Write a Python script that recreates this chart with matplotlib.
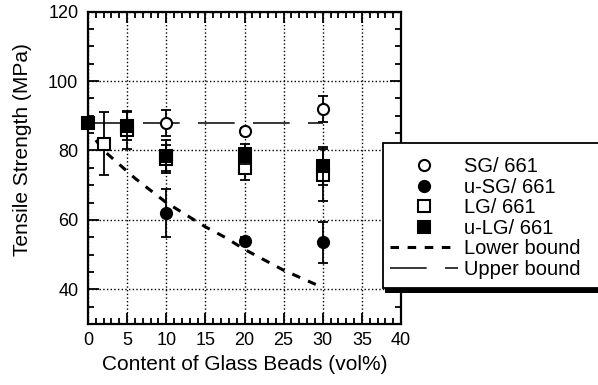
import matplotlib
matplotlib.use('Agg')
import matplotlib.pyplot as plt
from matplotlib.patches import Rectangle
from matplotlib.ticker import MultipleLocator

plt.rcParams['font.family'] = ['Liberation Sans', 'DejaVu Sans']

# glass bead content (vol%) and tensile strength (MPa)
sg_x = [10, 20, 30]
sg_y = [88, 85.5, 92]
sg_err = [3.8, 1.0, 3.8]

usg_x = [10, 20, 30]
usg_y = [62, 54, 53.5]
usg_err = [7, 1.0, 6]

lg_x = [2, 5, 10, 20, 30]
lg_y = [82, 86, 77.5, 75, 73]
lg_err = [9, 5.5, 4, 3.5, 7.5]

ulg_x = [0, 5, 10, 20, 30]
ulg_y = [88, 87, 78.5, 79, 75.5]
ulg_err = [0, 4, 4.5, 3, 5.5]

lower_x = [1, 2, 4, 6, 8, 10, 12.5, 15, 17.5, 20, 22.5, 25, 27.5, 29.5]
lower_y = [83, 80, 76, 72, 68.5, 65, 61.5, 58, 55, 51.5, 48.5, 45.5, 43, 41]

upper_x = [0, 30]
upper_y = [88, 88]

W, H = 598, 385
fig = plt.figure(figsize=(W / 100, H / 100), dpi=100)
ax = fig.add_axes([88 / W, 1 - 324 / H, 313 / W, 312.3 / H])

ax.plot(upper_x, upper_y, color='black', lw=1.1, linestyle=(0, (24, 12)),
        label='Upper bound', zorder=2)
ax.plot(lower_x, lower_y, color='black', lw=2.2, linestyle=(0, (2.8, 2.8)),
        label='Lower bound', zorder=2)

series = [
    (sg_x, sg_y, sg_err, 'o', 'white', 'SG/ 661'),
    (usg_x, usg_y, usg_err, 'o', 'black', 'u-SG/ 661'),
    (lg_x, lg_y, lg_err, 's', 'white', 'LG/ 661'),
    (ulg_x, ulg_y, ulg_err, 's', 'black', 'u-LG/ 661'),
]
handles = []
for i, (x, y, e, m, fc, lab) in enumerate(series):
    ax.errorbar(x, y, yerr=e, fmt='none', ecolor='black', elinewidth=1.3,
                capsize=3.6, capthick=1.3, zorder=3 + i)
    h, = ax.plot(x, y, linestyle='none', marker=m, markersize=8,
                 markerfacecolor=fc, markeredgecolor='black',
                 markeredgewidth=1.5, label=lab, zorder=3.5 + i,
                 clip_on=False)
    handles.append(h)

ax.set_xlim(0, 40)
ax.set_ylim(30, 120)
ax.set_xticks(range(0, 41, 5))
ax.set_yticks(range(40, 121, 20))
ax.xaxis.set_minor_locator(MultipleLocator(1))
ax.yaxis.set_minor_locator(MultipleLocator(5))
ax.tick_params(which='both', direction='in', top=True, right=True,
               width=1.3, labelsize=13)
ax.tick_params(which='major', length=8)
ax.tick_params(which='minor', length=4)
ax.tick_params(axis='x', pad=6)
ax.tick_params(axis='y', pad=7)
for s in ax.spines.values():
    s.set_linewidth(1.6)
ax.grid(True, which='major', linestyle=':', color='black', lw=1)

ax.set_xlabel('Content of Glass Beads (vol%)', fontsize=15)
ax.set_ylabel('Tensile Strength (MPa)', fontsize=15)
ax.yaxis.set_label_coords(-0.18, 0.56)

# legend box with drop shadow, sitting over the right edge of the axes
fig.add_artist(Rectangle((385 / W, 1 - 293 / H), 220 / W, 145 / H,
                         transform=fig.transFigure, facecolor='black',
                         edgecolor='none', zorder=5))
fig.add_artist(Rectangle((383 / W, 1 - 288 / H), 220 / W, 145 / H,
                         transform=fig.transFigure, facecolor='white',
                         edgecolor='black', lw=1.3, zorder=6))

lines = ax.get_legend_handles_labels()[0]
leg_handles = handles + [lines[1], lines[0]]
leg = fig.legend(leg_handles, [h.get_label() for h in leg_handles],
                 loc='upper left', bbox_to_anchor=(390 / W, 1 - 157 / H),
                 frameon=False, fontsize=14.5, handlelength=3.4,
                 handletextpad=0.25, labelspacing=0.08, borderpad=0,
                 borderaxespad=0)
leg.set_zorder(7)

fig.savefig('out.png', dpi=100)
